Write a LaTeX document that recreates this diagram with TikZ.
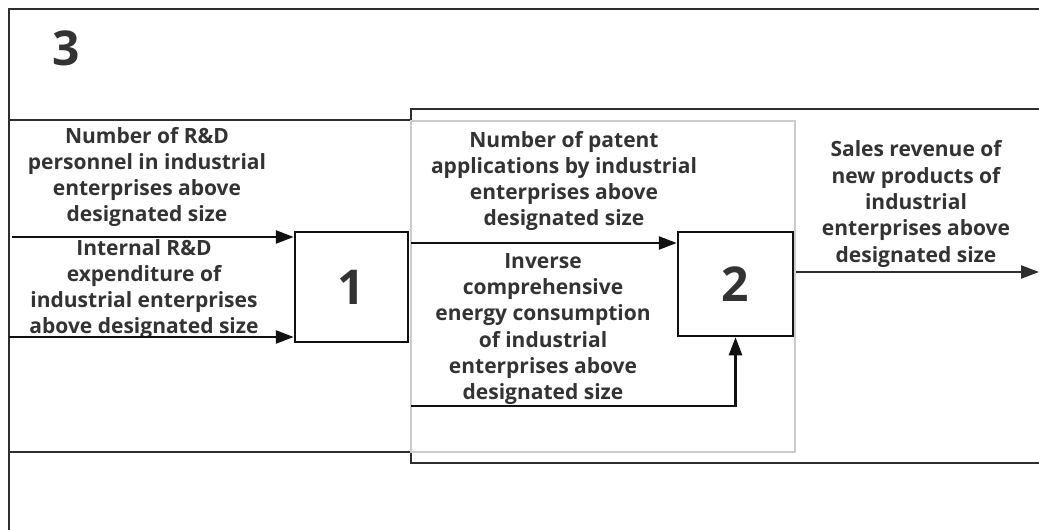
\documentclass[tikz,border=0pt]{standalone}
\usepackage{fontspec}
\setmainfont{Open Sans}
\usepackage{tikz}
\usetikzlibrary{arrows.meta, positioning}
\definecolor{LineDark}{HTML}{111111}
\definecolor{FrameGray}{HTML}{2E2E2E}
\definecolor{PaleGray}{HTML}{CCCCCC}
\definecolor{TextGray}{HTML}{333333}

\begin{document}
\begin{tikzpicture}[x=1pt, y=-1pt,
  box/.style={draw=LineDark, line width=2.5pt, minimum width=113pt, minimum height=110pt, inner sep=0pt,
    text=TextGray, font=\fontsize{48}{48}\selectfont\bfseries},
  lbl/.style={align=center, inner sep=0pt, text=TextGray, font=\fontsize{21}{26.3}\selectfont\bfseries},
  frame/.style={draw=FrameGray, line width=2.2pt},
  pale/.style={draw=PaleGray, line width=2pt},
  arr/.style={-{Triangle[length=18pt, width=13pt]}, line width=2.6pt, LineDark},
]
\clip (0,0) rectangle (1039,530);
\draw[frame] (1050,9) -- (9,9) -- (9,540);
\draw[frame] (9,120) rectangle (411,452);
\draw[frame] (411,109) rectangle (1050,463);
\draw[pale] (411,121) rectangle (795,452);
\node[lbl, font=\fontsize{48}{48}\selectfont\bfseries] (n3) at (66,48) {3};
\node[box] (b1) at (351.5,287) {1};
\node[box, minimum width=115pt, minimum height=104pt] (b2) at (735.5,284) {2};
\node[lbl] (t1) at (147,177) {Number of R\&D\\personnel in industrial\\enterprises above\\designated size};
\node[lbl] (t2) at (144,289) {Internal R\&D\\expenditure of\\industrial enterprises\\above designated size};
\node[lbl] (t3) at (564,181) {Number of patent\\applications by industrial\\enterprises above\\designated size};
\node[lbl] (t4) at (543,329) {Inverse\\comprehensive\\energy consumption\\of industrial\\enterprises above\\designated size};
\node[lbl] (t5) at (916,204) {Sales revenue of\\new products of\\industrial\\enterprises above\\designated size};
\coordinate (in1) at (12,237);
\coordinate (in2) at (9,337);
\coordinate (m1) at (411,243);
\coordinate (m2) at (411,406);
\coordinate (o1) at (796,272);
\coordinate (out) at (1039,272);
\draw[arr] (in1) -- (in1 -| b1.west);
\draw[arr] (in2) -- (in2 -| b1.west);
\draw[arr] (m1) -- (m1 -| b2.west);
\draw[arr] (m2) -| (b2.south);
\draw[arr, line width=2.2pt, FrameGray] (o1) -- (out);
\end{tikzpicture}
\end{document}
